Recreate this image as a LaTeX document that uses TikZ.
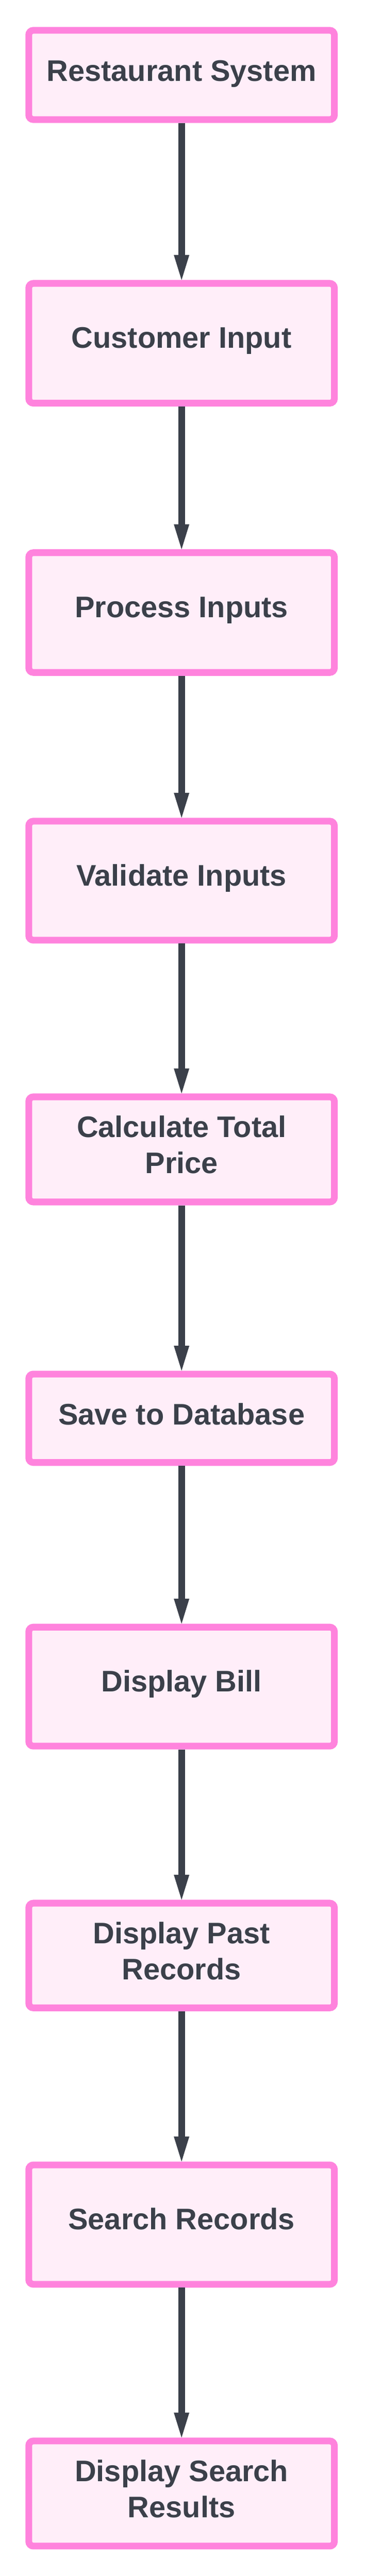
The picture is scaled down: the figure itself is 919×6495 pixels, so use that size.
\documentclass[tikz,border=0pt]{standalone}
\usepackage{fontspec}
\setmainfont{Liberation Sans}
\usetikzlibrary{arrows.meta}
\definecolor{boxline}{RGB}{255,131,221}
\definecolor{boxfill}{RGB}{255,238,249}
\definecolor{ink}{RGB}{59,64,74}
\newcommand{\onel}[2]{\raisebox{#1}[0pt][0pt]{#2}}
\newcommand{\twol}[3]{\raisebox{-61pt}[0pt][0pt]{\begin{tabular}[b]{@{}c@{}}#1\\#2\end{tabular}}}
\begin{document}
\begin{tikzpicture}[x=1pt,y=-1pt,
  procbox/.style={rectangle, rounded corners=11.5pt, draw=boxline, fill=boxfill,
    line width=17pt, minimum width=770pt, inner sep=0pt, text=ink,
    font={\fontsize{75}{91}\selectfont\bfseries}},
  conn/.style={draw=ink, line width=17pt,
    -{Triangle[width=39pt, length=63pt, line width=0pt]}}]
\useasboundingbox (0,0) rectangle (919,6495);
\node[procbox, minimum height=225pt] (b1) at (457.5,189)    {\onel{-16pt}{Restaurant System}};
\node[procbox, minimum height=302pt] (b2) at (457.5,865.5)  {\onel{-12.5pt}{Customer Input}};
\node[procbox, minimum height=302pt] (b3) at (457.5,1544.5) {\onel{-12pt}{Process Inputs}};
\node[procbox, minimum height=300pt] (b4) at (457.5,2220.5) {\onel{-13.5pt}{Validate Inputs}};
\node[procbox, minimum height=265pt] (b5) at (457.5,2898)   {\twol{Calculate Total}{Price}{}};
\node[procbox, minimum height=223pt] (b6) at (457.5,3576)   {\onel{-16pt}{Save to Database}};
\node[procbox, minimum height=300pt] (b7) at (457.5,4252.5) {\onel{-12.5pt}{Display Bill}};
\node[procbox, minimum height=264pt] (b8) at (457.5,4930.5) {\twol{Display Past}{Records}{}};
\node[procbox, minimum height=301pt] (b9) at (457.5,5609)   {\onel{-13pt}{Search Records}};
\node[procbox, minimum height=265pt] (b10) at (457.5,6287)  {\twol{Display Search}{Results}{}};
\draw[conn] (b1) -- (b2);
\draw[conn] (b2) -- (b3);
\draw[conn] (b3) -- (b4);
\draw[conn] (b4) -- (b5);
\draw[conn] (b5) -- (b6);
\draw[conn] (b6) -- (b7);
\draw[conn] (b7) -- (b8);
\draw[conn] (b8) -- (b9);
\draw[conn] (b9) -- (b10);
\end{tikzpicture}
\end{document}
